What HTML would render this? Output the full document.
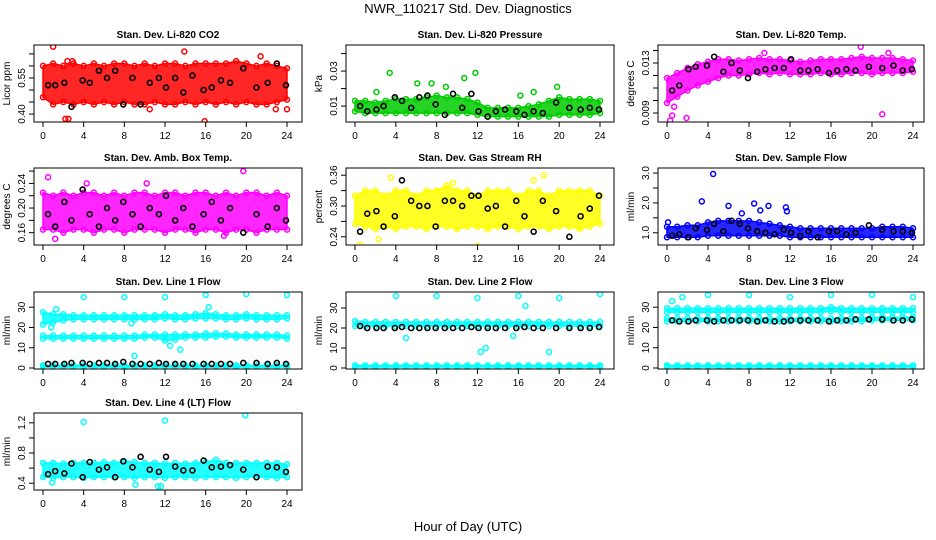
<!DOCTYPE html>
<html><head><meta charset="utf-8"><style>
body{margin:0;background:#fff}
svg{display:block;font-family:"Liberation Sans",sans-serif}
</style></head><body>
<svg id="c" width="936" height="540" viewBox="0 0 936 540">
<text x="468" y="13" text-anchor="middle" font-size="13">NWR_110217  Std. Dev. Diagnostics</text>
<text x="468" y="531" text-anchor="middle" font-size="13">Hour of Day (UTC)</text>
</svg>
<script>
const hours=[0,1,2,3,4,5,6,7,8,9,10,11,12,13,14,15,16,17,18,19,20,21,22,23,24];
const blackX=[0.5,1.2,2.1,2.8,3.9,4.6,5.5,6.3,7.1,7.9,8.8,9.6,10.5,11.4,12.1,13.0,13.8,14.7,15.8,16.6,17.5,18.4,19.7,21.0,22.1,23.0,23.9];
const xTicks=[0,4,8,12,16,20,24];

const co2Hi=[0.60,0.61,0.60,0.61,0.60,0.61,0.60,0.61,0.61,0.60,0.61,0.60,0.61,0.61,0.60,0.61,0.61,0.61,0.61,0.62,0.61,0.60,0.61,0.60,0.59];
const co2Lo=[0.47,0.44,0.45,0.44,0.45,0.44,0.45,0.44,0.45,0.44,0.44,0.45,0.44,0.44,0.45,0.44,0.45,0.44,0.45,0.44,0.45,0.44,0.44,0.45,0.46];
const co2Black=[0.52,0.52,0.53,0.43,0.54,0.53,0.58,0.55,0.58,0.44,0.55,0.44,0.53,0.55,0.51,0.55,0.49,0.56,0.50,0.51,0.54,0.53,0.59,0.51,0.53,0.61,0.52];
const co2OutX=[1,2.2,2.5,15.9,10.5,22.9,24,21.4,13.9,2.4,2.9];
const co2OutY=[0.68,0.38,0.38,0.37,0.42,0.42,0.42,0.64,0.66,0.62,0.62];

const presHi=[0.013,0.013,0.012,0.013,0.014,0.014,0.014,0.015,0.016,0.015,0.015,0.014,0.012,0.009,0.009,0.009,0.009,0.010,0.011,0.013,0.015,0.014,0.014,0.014,0.013];
const presLo=[0.007,0.006,0.006,0.006,0.006,0.006,0.006,0.006,0.006,0.006,0.006,0.006,0.005,0.004,0.004,0.004,0.004,0.004,0.004,0.004,0.005,0.005,0.005,0.005,0.006];
const presBlack=[0.010,0.007,0.008,0.010,0.015,0.013,0.009,0.015,0.016,0.011,0.005,0.017,0.009,0.017,0.007,0.004,0.007,0.008,0.007,0.005,0.007,0.006,0.012,0.009,0.008,0.009,0.008];
const presOutX=[4.4,3.4,11.8,6.1,7.5,19.8,16.2,17.5,10.7,2.1,8.9];
const presOutY=[0.047,0.029,0.029,0.023,0.023,0.021,0.016,0.018,0.026,0.018,0.021];

const tempHi=[0.0118,0.0122,0.0126,0.0129,0.0131,0.0133,0.0133,0.0132,0.0133,0.0134,0.0133,0.0133,0.0132,0.0131,0.0132,0.0133,0.0133,0.0133,0.0134,0.0135,0.0134,0.0134,0.0134,0.0133,0.0132];
const tempLo=[0.0098,0.0103,0.0108,0.0112,0.0115,0.0118,0.0120,0.0120,0.0121,0.0122,0.0121,0.0122,0.0121,0.0121,0.0121,0.0122,0.0121,0.0121,0.0122,0.0122,0.0121,0.0122,0.0122,0.0122,0.0123];
const tempBlack=[0.0108,0.0112,0.0125,0.0127,0.0128,0.0135,0.0123,0.0130,0.0124,0.0118,0.0123,0.0125,0.0126,0.0126,0.0133,0.0124,0.0124,0.0125,0.0122,0.0124,0.0125,0.0124,0.0127,0.0126,0.0128,0.0124,0.0125];
const tempOutX=[0.3,0.5,1.9,18.9,21,9.5,0.7,21.6];
const tempOutY=[0.0084,0.0088,0.0086,0.0143,0.0089,0.0138,0.0095,0.0138];

const ambHi=[0.225,0.22,0.225,0.22,0.225,0.225,0.22,0.225,0.22,0.225,0.225,0.22,0.225,0.225,0.22,0.225,0.225,0.22,0.225,0.22,0.225,0.225,0.22,0.225,0.22];
const ambLo=[0.165,0.165,0.16,0.165,0.165,0.16,0.165,0.165,0.16,0.165,0.165,0.165,0.16,0.165,0.165,0.16,0.165,0.165,0.16,0.165,0.165,0.16,0.165,0.165,0.165];
const ambBlack=[0.19,0.17,0.21,0.18,0.23,0.19,0.17,0.20,0.18,0.21,0.19,0.17,0.20,0.19,0.22,0.18,0.20,0.17,0.19,0.21,0.18,0.20,0.16,0.19,0.17,0.20,0.18];
const ambOutX=[0.5,19.7,17.8,1.2,4.3,10.2];
const ambOutY=[0.25,0.26,0.155,0.15,0.24,0.24];

const rhHi=[0.32,0.33,0.33,0.32,0.33,0.33,0.32,0.33,0.33,0.34,0.33,0.33,0.32,0.33,0.33,0.33,0.32,0.33,0.33,0.32,0.33,0.33,0.33,0.33,0.32];
const rhLo=[0.265,0.26,0.255,0.26,0.255,0.26,0.26,0.255,0.26,0.26,0.255,0.26,0.26,0.255,0.26,0.26,0.255,0.26,0.26,0.255,0.26,0.26,0.255,0.26,0.265];
const rhBlack=[0.25,0.285,0.29,0.26,0.28,0.35,0.31,0.30,0.30,0.26,0.31,0.31,0.30,0.32,0.32,0.295,0.30,0.26,0.31,0.28,0.25,0.31,0.29,0.24,0.28,0.295,0.32];
const rhOutX=[0.5,12,18.5,17.5,3.5,9.6,2.3];
const rhOutY=[0.225,0.222,0.36,0.35,0.355,0.345,0.235];

const sfHi=[1.2,1.2,1.25,1.25,1.35,1.4,1.4,1.4,1.4,1.35,1.3,1.25,1.2,1.15,1.15,1.15,1.15,1.15,1.15,1.15,1.15,1.2,1.2,1.2,1.15];
const sfLo=[0.85,0.85,0.85,0.85,0.9,0.9,0.9,0.9,0.9,0.9,0.9,0.9,0.85,0.85,0.85,0.85,0.85,0.85,0.85,0.85,0.85,0.85,0.85,0.85,0.85];
const sfBlack=[0.9,0.95,0.85,1.15,1.1,1.3,1.05,1.4,1.3,1.15,1.05,1.0,0.95,1.1,1.0,0.9,1.05,0.85,1.05,1.05,0.95,1.0,1.25,1.1,1.05,1.05,1.0];
const sfOutX=[4.5,3.4,6,8.5,9.9,11.6,7.3,9.1,11.7,0.1];
const sfOutY=[2.97,2.05,1.9,1.98,1.9,1.85,1.65,1.75,1.72,1.35];

const l1aHi=[27.5,26.5,26.5,26,26,26,26,26,26,26,26,26,26.5,26,26,26.5,27,26.5,26,26,26.5,26,26,26,26];
const l1aLo=[21.5,22.5,23.5,24,24,24,24,24,24,24,24,24,24.5,24,24,24.5,24.5,24.5,24,24,24.5,24,24,24,24.5];
const l1bHi=[16,16,16,16,16,16,16,16,16,16,16.5,16.5,16.5,16.5,16.5,16.5,17,17,17,16.5,16.5,16.5,16.5,16.5,16];
const l1bLo=[14.5,14.5,14.5,14.5,14.5,14.5,14.5,14.5,14.5,14.5,15,15,13.5,14,15,15,15,15.5,15.5,15,15,15,15,15,14.5];
const l1cHi=[1.3,1.3,1.3,1.3,1.3,1.3,1.3,1.3,1.3,1.3,1.3,1.3,1.3,1.3,1.3,1.3,1.3,1.3,1.3,1.3,1.3,1.3,1.3,1.3,1.3];
const l1cLo=[0.5,0.5,0.5,0.5,0.5,0.5,0.5,0.5,0.5,0.5,0.5,0.5,0.5,0.5,0.5,0.5,0.5,0.5,0.5,0.5,0.5,0.5,0.5,0.5,0.5];
const l1Black=[2,2,2,2.5,2.5,2,2.5,2.5,2,3,2,2,2,2.5,2,2,2,2,2,2,2,2,2.5,2.5,2,2.5,2];
const l1OutX=[4,8,12,16,20,24,9,13.5,12.5,0.8,1.3,8.7,16.3];
const l1OutY=[35,35,35,36,36.5,36,6,9,11,20,29,22,30];

const l2aHi=[23.5,23,23,23,23,23,23,23,23,23,23,23,23,23,23,23,23,23,23,23,23,23,23,23,23];
const l2aLo=[21,21,21,21,21,21,21,21,21,21,21,21,21,21,21,21,21,21,21,21,21,21,21,21,21];
const l2cHi=l1cHi;
const l2cLo=l1cLo;
const l2Black=[21,20,20,20,20,20.5,20,20,20,20,20,20,20,20.5,20,20,20,20,20,20.5,20,20,20,20,20,20,20.5];
const l2OutX=[4,8,12,16,20,24,12.3,12.8,19,15.5,16.7,5];
const l2OutY=[36,36,35,36,35,37,8,10,8,16,31,15];

const l3aHi=[29.5,29.5,29.5,29.5,29.5,29.5,29.5,29.5,29.5,29.5,29.5,29.5,29.5,29.5,29.5,29.5,30,29.5,29.5,29.5,29.5,29.5,29.5,29.5,29.5];
const l3aLo=[27.5,27.5,27.5,27.5,27.5,27.5,27.5,27.5,27.5,27.5,27.5,27.5,27.5,27.5,27.5,27.5,28,27.5,27.5,27.5,27.5,27.5,27.5,27.5,27.5];
const l3bHi=[24.5,24.5,24.5,24.5,24.5,24.5,24.5,24.5,24.5,24.5,24.5,24.5,24.5,24.5,24.5,24.5,24.5,24.5,24.5,24.5,25,25,25,25,25];
const l3bLo=[23,23,23,23,23,23,23,23,23,23,23,23,23,23,23,23,23,23,23,23,23.5,23.5,23.5,23.5,23.5];
const l3cHi=l1cHi;
const l3cLo=l1cLo;
const l3Black=[23.5,23,23,23.5,23.5,23,23.5,23.5,23.5,23.5,23,23.5,23,23,23.5,23.5,23.5,23.5,23,23.5,23.5,24,24,24,23.5,23.5,24];
const l3OutX=[0.5,1.5,4,8,12,16,20,24];
const l3OutY=[33,35,36,36,35,36,36,35];

const l4Hi=[0.67,0.67,0.66,0.67,0.67,0.67,0.68,0.67,0.69,0.68,0.67,0.67,0.66,0.67,0.66,0.67,0.68,0.71,0.67,0.67,0.67,0.67,0.67,0.67,0.65];
const l4Lo=[0.48,0.47,0.48,0.48,0.47,0.48,0.48,0.48,0.48,0.47,0.48,0.48,0.47,0.48,0.48,0.47,0.48,0.48,0.48,0.47,0.48,0.48,0.48,0.47,0.48];
const l4Black=[0.52,0.56,0.53,0.66,0.48,0.68,0.58,0.61,0.48,0.69,0.61,0.75,0.58,0.55,0.75,0.62,0.57,0.57,0.70,0.61,0.62,0.64,0.58,0.48,0.62,0.61,0.55];
const l4OutX=[4,12,19.9,11.3,11.6,0.9,9.1];
const l4OutY=[1.21,1.23,1.3,0.36,0.36,0.41,0.38];

const panels=[
 {id:'co2',title:'Stan. Dev. Li-820 CO2',ylab:'Licor ppm',col:0,row:0,color:'#ff0000',ymin:0.367,ymax:0.687,ticks:[0.40,0.45,0.50,0.55,0.60,0.65],labels:['0.40','','','0.55','',''],bands:[[co2Hi,co2Lo]],black:co2Black,ox:co2OutX,oy:co2OutY},
 {id:'pressure',title:'Stan. Dev. Li-820 Pressure',ylab:'kPa',col:1,row:0,color:'#00cc00',ymin:0.0009,ymax:0.0449,ticks:[0.01,0.02,0.03,0.04],labels:['0.01','','0.03',''],bands:[[presHi,presLo]],black:presBlack,ox:presOutX,oy:presOutY},
 {id:'temp',title:'Stan. Dev. Li-820 Temp.',ylab:'degrees C',col:2,row:0,color:'#ff00ff',ymin:0.00828,ymax:0.01444,ticks:[0.009,0.010,0.011,0.012,0.013,0.014],labels:['0.009','','','','0.013',''],bands:[[tempHi,tempLo]],black:tempBlack,ox:tempOutX,oy:tempOutY},
 {id:'amb',title:'Stan. Dev. Amb. Box Temp.',ylab:'degrees C',col:0,row:1,color:'#ff00ff',ymin:0.14,ymax:0.265,ticks:[0.16,0.18,0.20,0.22,0.24,0.26],labels:['0.16','','0.20','','0.24',''],bands:[[ambHi,ambLo]],black:ambBlack,ox:ambOutX,oy:ambOutY},
 {id:'rh',title:'Stan. Dev. Gas Stream RH',ylab:'percent',col:1,row:1,color:'#ffff00',ymin:0.224,ymax:0.374,ticks:[0.24,0.27,0.30,0.33,0.36],labels:['0.24','','0.30','','0.36'],bands:[[rhHi,rhLo]],black:rhBlack,ox:rhOutX,oy:rhOutY},
 {id:'sample-flow',title:'Stan. Dev. Sample Flow',ylab:'ml/min',col:2,row:1,color:'#0000ff',ymin:0.59,ymax:3.17,ticks:[1.0,1.5,2.0,2.5,3.0],labels:['1.0','','2.0','','3.0'],bands:[[sfHi,sfLo]],black:sfBlack,ox:sfOutX,oy:sfOutY},
 {id:'line1',title:'Stan. Dev. Line 1 Flow',ylab:'ml/min',col:0,row:2,color:'#00ffff',ymin:-0.5,ymax:37.5,ticks:[0,10,20,30],labels:['0','10','20','30'],bands:[[l1aHi,l1aLo],[l1bHi,l1bLo],[l1cHi,l1cLo]],black:l1Black,ox:l1OutX,oy:l1OutY},
 {id:'line2',title:'Stan. Dev. Line 2 Flow',ylab:'ml/min',col:1,row:2,color:'#00ffff',ymin:-0.5,ymax:38,ticks:[0,10,20,30],labels:['0','10','20','30'],bands:[[l2aHi,l2aLo],[l2cHi,l2cLo]],black:l2Black,ox:l2OutX,oy:l2OutY},
 {id:'line3',title:'Stan. Dev. Line 3 Flow',ylab:'ml/min',col:2,row:2,color:'#00ffff',ymin:-0.5,ymax:37.5,ticks:[0,10,20,30],labels:['0','10','20','30'],bands:[[l3aHi,l3aLo],[l3bHi,l3bLo],[l3cHi,l3cLo]],black:l3Black,ox:l3OutX,oy:l3OutY},
 {id:'line4',title:'Stan. Dev. Line 4 (LT) Flow',ylab:'ml/min',col:0,row:3,color:'#00ffff',ymin:0.31,ymax:1.33,ticks:[0.4,0.6,0.8,1.0,1.2],labels:['0.4','','0.8','','1.2'],bands:[[l4Hi,l4Lo]],black:l4Black,ox:l4OutX,oy:l4OutY}
];
const colX=[[34,302,43,287],[346,614,355,600],[658,924,667,913]];
const rowY=[45,168,292,413];
const BH=77;
const NS='http://www.w3.org/2000/svg';
const svg=document.getElementById('c');
function mk(t,a,p){const e=document.createElementNS(NS,t);for(const k in a)e.setAttribute(k,a[k]);(p||svg).appendChild(e);return e;}

panels.forEach(p=>{
  const [L,R,x0,x24]=colX[p.col];const T=rowY[p.row],B=T+BH;
  const X=h=>x0+h*(x24-x0)/24;
  const Y=v=>B-(v-p.ymin)/(p.ymax-p.ymin)*BH;
  const g=mk('g',{});
  
  
  const clipId='clip-'+p.id;
  const cp=mk('clipPath',{id:clipId},g);mk('rect',{x:L,y:T,width:R-L,height:BH},cp);
  const pg=mk('g',{'clip-path':'url(#'+clipId+')'},g);
  
  
  p.bands.forEach((b,bi)=>{
    const [hi,lo]=b;
    let d='M'+hours.map((h,i)=>X(h)+','+Y(hi[i])).join(' L')+' L'+hours.slice().reverse().map((h,j)=>{const i=hours.length-1-j;return X(h)+','+Y(lo[i]);}).join(' L')+'Z';
    const band=mk('path',{d:d,fill:p.color,'fill-opacity':0.85,stroke:p.color,'stroke-width':1.5,'stroke-linejoin':'round'},pg);
    
    
    hours.forEach((h,i)=>{
      [hi[i],lo[i]].forEach(v=>{
        const c=mk('circle',{cx:X(h),cy:Y(v),r:2.5,fill:'none',stroke:p.color,'stroke-width':1.5},pg);
        
        
      });
    });
  });
  p.ox.forEach((h,i)=>{
    const c=mk('circle',{cx:X(h),cy:Y(p.oy[i]),r:2.5,fill:'none',stroke:p.color,'stroke-width':1.5},pg);
    
    
  });
  blackX.forEach((h,i)=>{
    const c=mk('circle',{cx:X(h),cy:Y(p.black[i]),r:2.5,fill:'none',stroke:'#000','stroke-width':1.6},pg);
    
    
  });
  const box=mk('rect',{x:L,y:T,width:R-L,height:BH,fill:'none',stroke:'#000','stroke-width':1},g);
  
  
  const t=mk('text',{x:(L+R)/2,y:T-7,'text-anchor':'middle','font-size':10,'font-weight':'bold'},g);
  t.textContent=p.title;
  
  
  xTicks.forEach(h=>{
    mk('line',{x1:X(h),x2:X(h),y1:B,y2:B+5,stroke:'#000'},g);
    const tl=mk('text',{x:X(h),y:B+17,'text-anchor':'middle','font-size':10},g);
    tl.textContent=h;
    
    
  });
  p.ticks.forEach((v,i)=>{
    mk('line',{x1:L-5,x2:L,y1:Y(v),y2:Y(v),stroke:'#000'},g);
    if(p.labels[i]){
      const yl=mk('text',{x:L-9,y:Y(v),'text-anchor':'middle','font-size':10,transform:'rotate(-90 '+(L-9)+' '+Y(v)+')'},g);
      yl.textContent=p.labels[i];
      
      
    }
  });
  const yt=mk('text',{x:L-24,y:(T+B)/2,'text-anchor':'middle','font-size':10,transform:'rotate(-90 '+(L-24)+' '+((T+B)/2)+')'},g);
  yt.textContent=p.ylab;
  
  
});
</script>
</body></html>
